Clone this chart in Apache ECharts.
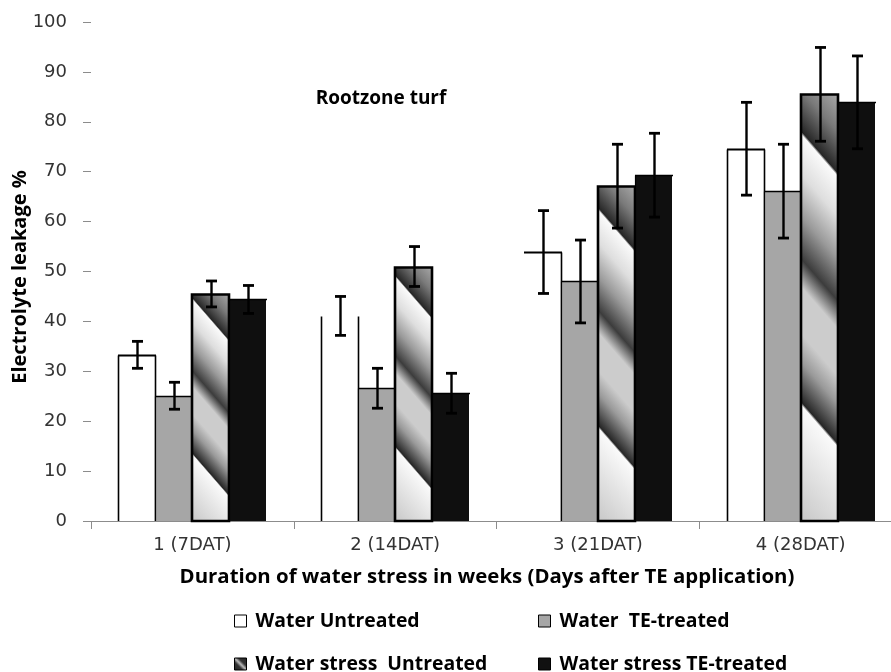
<!DOCTYPE html>
<html><head><meta charset="utf-8">
<script src="https://cdn.jsdelivr.net/npm/echarts@6/dist/echarts.min.js"></script>
<style>html,body{margin:0;padding:0;background:#fff;overflow:hidden}#chart{width:903px;height:672px}</style>
</head><body><div id="chart"></div>
<script>
// ---- data ----
const categories = ['1 (7DAT)', '2 (14DAT)', '3 (21DAT)', '4 (28DAT)'];
const seriesNames = ['Water Untreated', 'Water  TE-treated', 'Water stress  Untreated', 'Water stress TE-treated'];
const waterUntreated = [33.3, 41.1, 53.9, 74.6];
const waterUntreatedErr = [2.7, 3.9, 8.3, 9.3];
const waterTE = [25.1, 26.6, 48.0, 66.1];
const waterTEErr = [2.7, 4.0, 8.3, 9.4];
const stressUntreated = [45.5, 51.0, 67.1, 85.5];
const stressUntreatedErr = [2.6, 4.0, 8.4, 9.4];
const stressTE = [44.4, 25.6, 69.3, 83.9];
const stressTEErr = [2.8, 4.0, 8.4, 9.3];
const yMin = 0, yMax = 100, yInterval = 10;

const values = [waterUntreated, waterTE, stressUntreated, stressTE];
const errors = [waterUntreatedErr, waterTEErr, stressUntreatedErr, stressTEErr];

// ---- styles ----
const groupFraction = 0.73;
const chromeStops = [
  {offset: 0.00, color: '#a8a8a8'},
  {offset: 0.08, color: '#7a7a7a'},
  {offset: 0.168, color: '#262626'},
  {offset: 0.175, color: '#fafafa'},
  {offset: 0.26, color: '#dedede'},
  {offset: 0.35, color: '#9a9a9a'},
  {offset: 0.44, color: '#3c3c3c'},
  {offset: 0.50, color: '#cccccc'},
  {offset: 0.60, color: '#cccccc'},
  {offset: 0.66, color: '#9a9a9a'},
  {offset: 0.745, color: '#262626'},
  {offset: 0.752, color: '#fafafa'},
  {offset: 0.85, color: '#e6e6e6'},
  {offset: 1.00, color: '#c8c8c8'}
];
// which outline edges are drawn for the white bars (as in the original rendering)
const whiteEdges = [
  {left: true, top: true, right: true},
  {left: true, top: false, right: true},
  {left: false, top: true, right: true},
  {left: true, top: true, right: true}
];
const barFills = ['#ffffff', '#a6a6a6', null, '#0f0f0f'];
const gx = 0.755, gy = 0.656; // gradient direction (down-left)

function renderer(s) {
  return function (params, api) {
    const i = api.value(0), v = api.value(1), e = api.value(2);
    const pTop = api.coord([i, v]), pBase = api.coord([i, 0]);
    const catW = api.size([1, 0])[0];
    const bw = catW * groupFraction / seriesNames.length;
    const cx = pTop[0];
    const x0 = Math.round(cx - 2 * bw + s * bw);
    const x1 = Math.round(cx - 2 * bw + (s + 1) * bw);
    const y0 = Math.round(pTop[1]) + 0.5, y1 = pBase[1];
    const w = x1 - x0, h = y1 - y0;
    const ch = [];
    if (s === 2) {
      const range = w * gx + h * gy;
      const Ax = x0 + w, Ay = y0;
      ch.push({type: 'rect', shape: {x: x0, y: y0, width: w, height: h},
        style: {fill: new echarts.graphic.LinearGradient(Ax, Ay, Ax - gx * range, Ay + gy * range, chromeStops, true),
                stroke: '#000', lineWidth: 2.6}});
    } else {
      ch.push({type: 'rect', shape: {x: x0, y: y0, width: w, height: h}, style: {fill: barFills[s]}});
      const ed = s === 0 ? whiteEdges[params.dataIndex] : {left: true, top: true, right: s !== 3};
      const lw = s === 0 ? 1.6 : 1.2;
      const sx0 = x0 + 0.5, sx1 = x1 + 0.5;
      if (ed.left) ch.push({type: 'line', shape: {x1: sx0, y1: y0, x2: sx0, y2: y1}, style: {stroke: '#000', lineWidth: lw}});
      if (ed.top) ch.push({type: 'line', shape: {x1: x0, y1: y0, x2: x1 + 1, y2: y0}, style: {stroke: '#000', lineWidth: s === 0 ? 2 : 1.3}});
      if (ed.right) ch.push({type: 'line', shape: {x1: sx1, y1: y0, x2: sx1, y2: y1}, style: {stroke: '#000', lineWidth: lw}});
    }
    const eT = api.coord([i, v + e])[1], eB = api.coord([i, v - e])[1];
    const mx = Math.round((x0 + x1) / 2) + 0.5;
    const cw = 5.5;
    ch.push({type: 'line', shape: {x1: mx, y1: eT, x2: mx, y2: eB}, style: {stroke: '#000', lineWidth: 2.4}});
    ch.push({type: 'line', shape: {x1: mx - cw, y1: eT, x2: mx + cw, y2: eT}, style: {stroke: '#000', lineWidth: 2.8}});
    ch.push({type: 'line', shape: {x1: mx - cw, y1: eB, x2: mx + cw, y2: eB}, style: {stroke: '#000', lineWidth: 2.8}});
    return {type: 'group', children: ch};
  };
}

const legendIcons = [
  {color: '#ffffff', borderColor: '#000', borderWidth: 1},
  {color: '#a6a6a6', borderColor: '#000', borderWidth: 1},
  {color: new echarts.graphic.LinearGradient(1, 0, 0, 1, [
      {offset: 0, color: '#222'}, {offset: 0.35, color: '#333'}, {offset: 0.5, color: '#bbb'},
      {offset: 0.65, color: '#333'}, {offset: 1, color: '#222'}]), borderColor: '#000', borderWidth: 1},
  {color: '#111111', borderColor: '#000', borderWidth: 1}
];
const legendPos = [[234, 610], [538, 610], [234, 653], [538, 653]];
const textFont = 'DejaVu Sans';
const boldFont = 'Open Sans';

const chart = echarts.init(document.getElementById('chart'), null, {renderer: 'canvas'});
chart.setOption({
  backgroundColor: '#fff',
  animation: false,
  grid: {left: 91, right: 1, top: 22, bottom: 151, containLabel: false},
  xAxis: {
    type: 'category', data: categories,
    axisLine: {show: true, lineStyle: {color: '#8c8c8c', width: 1.2}},
    axisTick: {show: true, length: 8, lineStyle: {color: '#8c8c8c'}},
    axisLabel: {margin: 15, fontFamily: textFont, fontSize: 18, color: '#333'},
    splitLine: {show: false}
  },
  yAxis: {
    type: 'value', min: yMin, max: yMax, interval: yInterval,
    axisLine: {show: false},
    axisTick: {show: true, length: 8, lineStyle: {color: '#8c8c8c'}},
    axisLabel: {margin: 24, fontFamily: textFont, fontSize: 18, color: '#333'},
    splitLine: {show: false}
  },
  legend: legendPos.map((p, k) => ({
    left: p[0], top: p[1], padding: 0, itemWidth: 12, itemHeight: 12,
    selectedMode: false,
    textStyle: {fontFamily: boldFont, fontWeight: 'bold', fontSize: 19.4, color: '#000', lineHeight: 22, padding: [0, 0, 0, 4]},
    data: [{name: seriesNames[k], icon: 'rect', itemStyle: legendIcons[k]}]
  })),
  graphic: [
    {type: 'text', x: 381, y: 99, style: {text: 'Rootzone turf', font: 'bold 19px "Open Sans"', fill: '#000', align: 'center', verticalAlign: 'middle'}},
    {type: 'text', x: 487, y: 577, style: {text: 'Duration of water stress in weeks (Days after TE application)', font: 'bold 20.4px "Open Sans"', fill: '#000', align: 'center', verticalAlign: 'middle'}},
    {type: 'text', x: 20, y: 277, rotation: Math.PI / 2, style: {text: 'Electrolyte leakage %', font: 'bold 20px "Open Sans"', fill: '#000', align: 'center', verticalAlign: 'middle'}}
  ],
  series: seriesNames.map((name, s) => ({
    type: 'custom', name: name,
    renderItem: renderer(s),
    encode: {x: 0, y: 1},
    clip: false,
    data: categories.map((c, i) => [i, values[s][i], errors[s][i]])
  }))
});
</script></body></html>
